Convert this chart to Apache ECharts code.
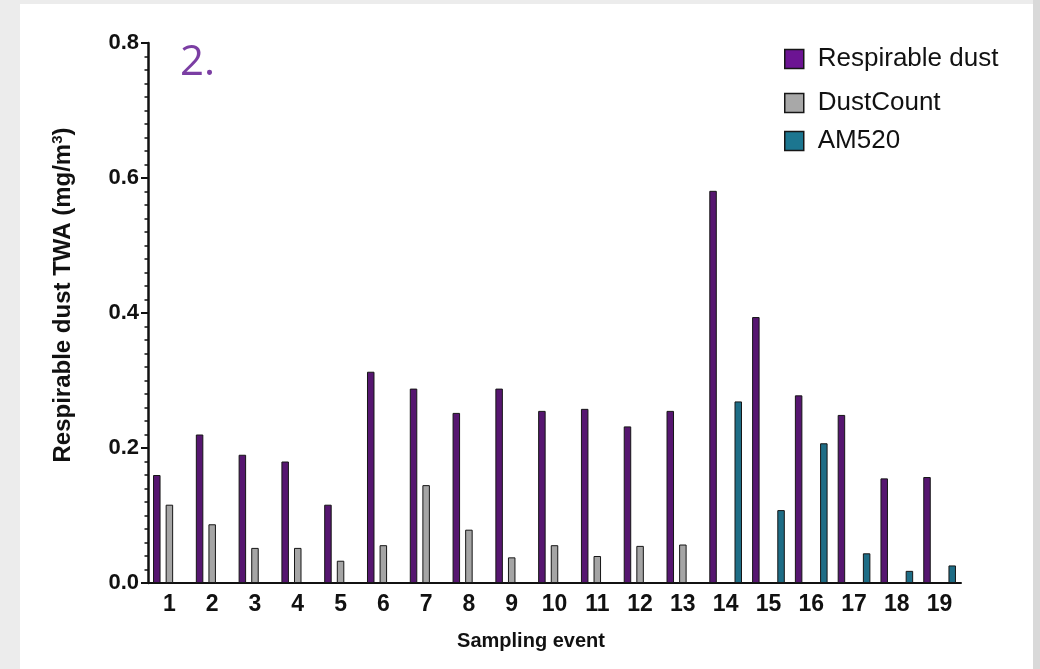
<!DOCTYPE html>
<html>
<head>
<meta charset="utf-8">
<script src="https://cdn.jsdelivr.net/npm/echarts@6/dist/echarts.min.js"></script>
<style>
  html, body { margin: 0; padding: 0; width: 1040px; height: 669px; overflow: hidden; background: #ececec; }
  #panel { position: absolute; left: 20px; top: 4px; width: 1013px; height: 665px; background: #ffffff; }
  #edge { position: absolute; left: 1033px; top: 0; width: 7px; height: 669px; background: #d9d9d9; }
  #chart { position: absolute; left: 0; top: 0; width: 1040px; height: 669px; }
</style>
</head>
<body>
<div id="panel"></div>
<div id="edge"></div>
<div id="chart"></div>
<script>
// Sampling events on the x axis
const events = ['1','2','3','4','5','6','7','8','9','10','11','12','13','14','15','16','17','18','19'];

// Gravimetric respirable dust TWA (mg/m3)
const respirableDust = [0.160, 0.220, 0.190, 0.180, 0.116, 0.313, 0.288, 0.252, 0.288, 0.255,
                        0.258, 0.232, 0.255, 0.581, 0.394, 0.278, 0.249, 0.155, 0.157];

// DustCount readings (events 1-13)
const dustCount = [0.116, 0.087, 0.052, 0.052, 0.033, 0.056, 0.145, 0.079, 0.038, 0.056,
                   0.040, 0.055, 0.057, null, null, null, null, null, null];

// AM520 readings (events 14-19)
const am520 = [null, null, null, null, null, null, null, null, null, null,
               null, null, null, 0.269, 0.108, 0.207, 0.044, 0.018, 0.026];

// Y axis range and tick spacing
const yMin = 0;
const yMax = 0.8;
const yStep = 0.2;

const FONT = '"Liberation Sans", Arial, sans-serif';

const chart = echarts.init(document.getElementById('chart'), null, { renderer: 'canvas' });

function barSeries(name, data, color) {
  return {
    name: name,
    type: 'bar',
    data: data,
    barWidth: 7.5,
    barGap: '68%',
    itemStyle: { color: color, borderColor: '#161616', borderWidth: 1 }
  };
}

function legendAt(name, top, color) {
  return {
    data: [{ name: name, itemStyle: { color: color, borderColor: '#161616', borderWidth: 1.5 } }],
    left: 784,
    top: top,
    padding: 0,
    icon: 'rect',
    itemWidth: 19,
    itemHeight: 19,
    selectedMode: false,
    textStyle: { fontFamily: FONT, fontSize: 26, color: '#111', padding: [0, 0, 0, 9] }
  };
}

chart.setOption({
  animation: false,
  backgroundColor: 'transparent',
  grid: { left: 148, right: 79, top: 43, bottom: 86, containLabel: false, outerBoundsMode: 'none' },
  legend: [
    legendAt('Respirable dust', 46, '#6c1493'),
    legendAt('DustCount', 90, '#a8a8a8'),
    legendAt('AM520', 128, '#1c7690')
  ],
  xAxis: {
    type: 'category',
    data: events,
    axisLine: { lineStyle: { color: '#111', width: 2 } },
    axisTick: { alignWithLabel: true, length: 6, lineStyle: { color: '#111', width: 2 } },
    axisLabel: { fontFamily: FONT, fontWeight: 'bold', fontSize: 23, color: '#111', margin: 10 },
    splitLine: { show: false }
  },
  yAxis: {
    type: 'value',
    min: yMin,
    max: yMax,
    interval: yStep,
    axisLine: { show: true, lineStyle: { color: '#111', width: 2.5 } },
    axisTick: { show: true, length: 7, lineStyle: { color: '#111', width: 2 } },
    minorTick: { show: true, splitNumber: 10, length: 3.5, lineStyle: { color: '#111', width: 1.5 } },
    axisLabel: {
      fontFamily: FONT, fontWeight: 'bold', fontSize: 22, color: '#111', margin: 9,
      formatter: v => v.toFixed(1)
    },
    splitLine: { show: false }
  },
  graphic: [
    {
      type: 'text',
      left: 180, top: 42,
      style: { text: '2.', fontFamily: '"Open Sans", sans-serif', fontSize: 42, fill: '#7b3ea3' }
    },
    {
      type: 'text',
      x: 531, y: 641,
      style: {
        text: 'Sampling event', fontFamily: FONT, fontWeight: 'bold', fontSize: 20, fill: '#111',
        align: 'center', verticalAlign: 'middle'
      }
    },
    {
      type: 'text',
      x: 63, y: 295,
      rotation: Math.PI / 2,
      style: {
        text: '{t|Respirable dust TWA (mg/m}{s|3}{t|)}',
        align: 'center', verticalAlign: 'middle',
        rich: {
          t: { fontFamily: FONT, fontWeight: 'bold', fontSize: 24, fill: '#111', color: '#111' },
          s: { fontFamily: FONT, fontWeight: 'bold', fontSize: 15, fill: '#111', color: '#111', verticalAlign: 'top', padding: [0, 0, 10, 0] }
        }
      }
    }
  ],
  series: [
    barSeries('Respirable dust', respirableDust, '#561670'),
    barSeries('DustCount', dustCount, '#a5a5a5'),
    barSeries('AM520', am520, '#1e6d86')
  ]
});
</script>
</body>
</html>
